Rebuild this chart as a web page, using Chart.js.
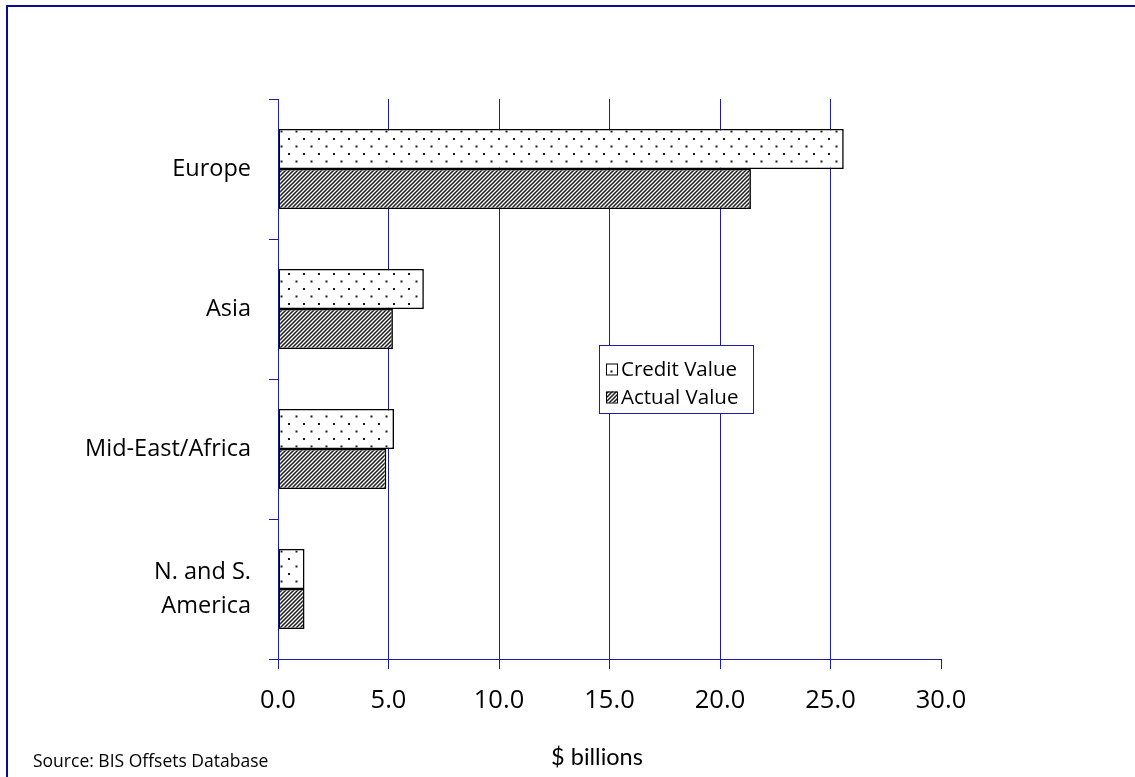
<!DOCTYPE html>
<html>
<head>
<meta charset="utf-8">
<script src="https://cdn.jsdelivr.net/npm/chart.js@4.4.1/dist/chart.umd.min.js"></script>
<style>
  html, body { margin: 0; padding: 0; background: #fff; }
  #wrap { width: 1135px; height: 777px; position: relative; }
</style>
</head>
<body>
<div id="wrap"><canvas id="c" width="1135" height="777"></canvas></div>
<script>
// Offsets by region, $ billions
const regions = ['Europe', 'Asia', 'Mid-East/Africa', ['N. and S.', 'America']];
const creditValue = [25.6, 6.6, 5.25, 1.2];
const actualValue = [21.4, 5.2, 4.9, 1.2];
const seriesNames = ['Credit Value', 'Actual Value'];
const axisTitle = '$ billions';
const sourceNote = 'Source: BIS Offsets Database';

const NAVY = '#1c1cac';
const FONT = '"Open Sans", Lato, sans-serif';
const NARROW = 'Lato, "Open Sans", sans-serif';

// Fill patterns: sparse staggered dots and a fine diagonal hatch
function dotPattern() {
  const c = document.createElement('canvas');
  c.width = 15; c.height = 15;
  const g = c.getContext('2d');
  g.fillStyle = '#fff';
  g.fillRect(0, 0, 15, 15);
  g.fillStyle = '#1a1a1a';
  g.fillRect(3, 3, 2, 2);
  g.fillRect(10.5, 10.5, 2, 2);
  return g.createPattern(c, 'repeat');
}
function hatchPattern() {
  const s = 4;
  const c = document.createElement('canvas');
  c.width = s; c.height = s;
  const g = c.getContext('2d');
  g.fillStyle = '#fff';
  g.fillRect(0, 0, s, s);
  g.strokeStyle = '#1a1a1a';
  g.lineWidth = 1.5;
  g.beginPath();
  g.moveTo(0, s); g.lineTo(s, 0);
  g.moveTo(-1, 1); g.lineTo(1, -1);
  g.moveTo(s - 1, s + 1); g.lineTo(s + 1, s - 1);
  g.stroke();
  return g.createPattern(c, 'repeat');
}
const fills = [dotPattern(), hatchPattern()];

// Frame, axis title, source note and boxed legend
const decorations = {
  id: 'decorations',
  beforeDraw(chart) {
    const ctx = chart.ctx;
    ctx.save();
    ctx.fillStyle = '#fff';
    ctx.fillRect(0, 0, chart.width, chart.height);
    ctx.strokeStyle = '#0a0a96';
    ctx.lineWidth = 2;
    ctx.beginPath();
    ctx.moveTo(7, chart.height + 5);
    ctx.lineTo(7, 6);
    ctx.lineTo(chart.width + 5, 6);
    ctx.stroke();
    ctx.restore();
  },
  afterDraw(chart) {
    const ctx = chart.ctx;
    ctx.save();
    ctx.fillStyle = '#000';
    ctx.textBaseline = 'middle';
    // axis title
    ctx.font = '23.5px ' + NARROW;
    ctx.textAlign = 'center';
    ctx.fillText(axisTitle, 597, 757);
    // source
    ctx.font = '17.5px ' + FONT;
    ctx.textAlign = 'left';
    ctx.fillText(sourceNote, 33, 762);
    // legend
    const lx = 599.5, ly = 345.5, lw = 154, lh = 68;
    ctx.fillStyle = '#fff';
    ctx.fillRect(lx, ly, lw, lh);
    ctx.strokeStyle = NAVY;
    ctx.lineWidth = 1;
    ctx.strokeRect(lx, ly, lw, lh);
    ctx.font = '20.5px ' + FONT;
    seriesNames.forEach((name, i) => {
      const cy = ly + 24 + i * 28;
      ctx.fillStyle = fills[i];
      ctx.fillRect(606, cy - 6, 11, 11);
      ctx.strokeStyle = '#000';
      ctx.lineWidth = 1;
      ctx.strokeRect(606.5, cy - 5.5, 11, 11);
      ctx.fillStyle = '#000';
      ctx.fillText(name, 621, cy + 1);
    });
    ctx.restore();
  }
};

new Chart(document.getElementById('c'), {
  type: 'bar',
  data: {
    labels: regions,
    datasets: [
      { label: seriesNames[0], data: creditValue, backgroundColor: fills[0],
        borderColor: '#000', borderWidth: 1.6, borderSkipped: false },
      { label: seriesNames[1], data: actualValue, backgroundColor: fills[1],
        borderColor: '#000', borderWidth: 1.6, borderSkipped: false }
    ]
  },
  options: {
    indexAxis: 'y',
    responsive: false,
    animation: false,
    devicePixelRatio: 1,
    categoryPercentage: 80 / 140,
    barPercentage: 1,
    layout: { padding: { top: 99, right: 194, left: 0, bottom: 0 } },
    plugins: { legend: { display: false }, tooltip: { enabled: false } },
    scales: {
      x: {
        min: 0, max: 30,
        afterFit(scale) { scale.height = 118; },
        ticks: {
          stepSize: 5,
          padding: 16,
          color: '#000',
          font: { family: FONT, size: 25.5 },
          callback: v => Number(v).toFixed(1)
        },
        grid: {
          color: ctx => (ctx.tick && ctx.tick.value === 30) ? 'rgba(0,0,0,0)' : NAVY,
          tickColor: NAVY,
          tickLength: 10,
          lineWidth: 1
        },
        border: { display: true, color: NAVY, width: 1 }
      },
      y: {
        afterFit(scale) { scale.width = 278; },
        ticks: {
          padding: 18,
          color: '#000',
          font: { family: FONT, size: 23.5, lineHeight: 1.45 }
        },
        grid: {
          offset: true,
          drawOnChartArea: false,
          color: NAVY,
          tickColor: NAVY,
          tickLength: 9
        },
        border: { display: true, color: NAVY, width: 1 }
      }
    }
  },
  plugins: [decorations]
});
</script>
</body>
</html>
